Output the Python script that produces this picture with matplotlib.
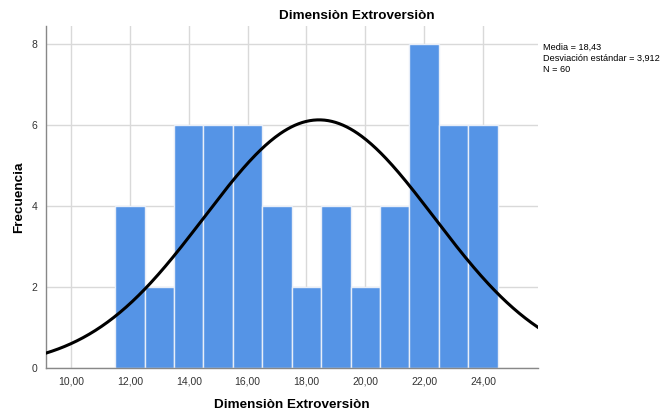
import numpy as np
import matplotlib.pyplot as plt

plt.rcParams['font.family'] = ['Liberation Sans', 'DejaVu Sans']

# Frequencies per score (bin width 1)
scores = [12, 13, 14, 15, 16, 17, 18, 19, 20, 21, 22, 23, 24]
counts = [4, 2, 6, 6, 6, 4, 2, 4, 2, 4, 8, 6, 6]
mean = 18.43
sd = 3.912
n = 60
xticks = [10, 12, 14, 16, 18, 20, 22, 24]
yticks = [0, 2, 4, 6, 8]

fig = plt.figure(figsize=(6.63, 4.15), dpi=100)
ax = fig.add_axes([0.0694, 0.1133, 0.7416, 0.8237])

ax.bar(scores, counts, width=1.0, color='#5594e6', edgecolor='#e8eef8', linewidth=1.0, zorder=2)

# normal curve scaled to counts
x = np.linspace(9.15, 25.86, 400)
pdf = n * 1.0 / (sd * np.sqrt(2 * np.pi)) * np.exp(-0.5 * ((x - mean) / sd) ** 2)
ax.plot(x, pdf, color='black', linewidth=2.2, zorder=3)

ax.set_xlim(9.15, 25.86)
ax.set_ylim(0, 8.43)
ax.set_xticks(xticks)
ax.set_xticklabels([f'{t:.2f}'.replace('.', ',') for t in xticks])
ax.set_yticks(yticks)
ax.tick_params(length=0, labelsize=7.5, colors='#333333', pad=6)
ax.grid(True, color='#d9d9d9', linewidth=1.0, zorder=0)
ax.set_axisbelow(True)

for side in ['top', 'right']:
    ax.spines[side].set_visible(False)
for side in ['left', 'bottom']:
    ax.spines[side].set_color('#888888')
    ax.spines[side].set_linewidth(1.0)

fig.text(0.538, 0.961, 'Dimensiòn Extroversiòn', fontsize=9.7, fontweight='bold',
         ha='center', va='center')
ax.set_xlabel('Dimensiòn Extroversiòn', fontsize=9.7, fontweight='bold', labelpad=9)
ax.set_ylabel('Frecuencia', fontsize=9.7, fontweight='bold', labelpad=5)

fig.text(0.819, 0.898, 'Media = 18,43\nDesviación estándar = 3,912\nN = 60',
         fontsize=6.6, va='top', ha='left', linespacing=1.3)

fig.savefig('out.png', dpi=100)
